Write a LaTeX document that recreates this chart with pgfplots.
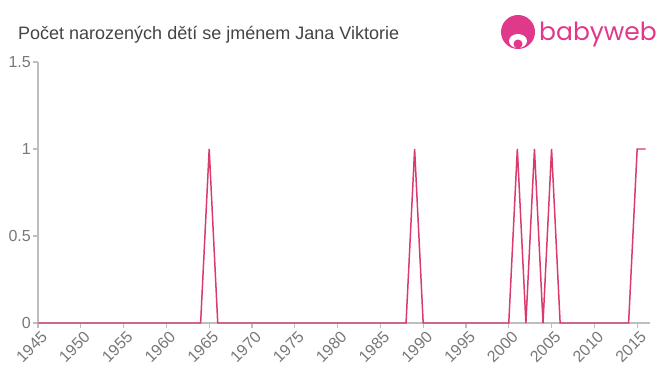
\documentclass[border=0pt]{standalone}
\usepackage{pgfplots}
\pgfplotsset{compat=1.18}
\usepackage{fontspec}
\setmainfont{Liberation Sans}
\newfontfamily\logofont{Poppins}
\definecolor{linec}{RGB}{217,59,107}
\definecolor{logoc}{RGB}{224,56,138}
\definecolor{txtc}{RGB}{68,68,68}
\definecolor{tickc}{RGB}{120,120,120}
\definecolor{axc}{RGB}{190,190,190}
\newcommand{\xl}[1]{\fontsize{16bp}{18bp}\selectfont #1}
\begin{document}
\begin{tikzpicture}
\path (0bp,0bp) rectangle (660bp,375bp);
\node[anchor=base west, text=txtc, font=\fontsize{18bp}{20bp}\selectfont, inner sep=0] at (18bp,335bp) {Počet narozených dětí se jménem Jana Viktorie};
% logo
\fill[logoc] (518bp,343bp) circle (17bp);
\fill[white] (518bp,334bp) ellipse (9bp and 7bp);
\fill[logoc] (518bp,331bp) circle (4.5bp);
\fill[logoc] (512bp,341bp) rectangle (524bp,345bp);
\node[anchor=base west, text=logoc, font=\logofont\fontsize{25bp}{27bp}\selectfont, inner sep=0] at (539bp,334bp) {babyweb};
\begin{axis}[
  at={(38bp,52bp)}, anchor=south west,
  scale only axis, width=612bp, height=261bp,
  xmin=1945, xmax=2016.5, ymin=0, ymax=1.5,
  axis x line=bottom, axis y line=left,
  axis line style={-, draw=axc, line width=1.2pt},
  tick align=outside,
  major tick length=5bp,
  tick style={draw=axc, line width=1.2pt},
  xtick={1945,1950,...,2015},
  xticklabels={\xl{1945},\xl{1950},\xl{1955},\xl{1960},\xl{1965},\xl{1970},\xl{1975},\xl{1980},\xl{1985},\xl{1990},\xl{1995},\xl{2000},\xl{2005},\xl{2010},\xl{2015}},
  ytick={0,0.5,1,1.5},
  yticklabels={0,0.5,1,1.5},
  xticklabel style={rotate=45, anchor=east, xshift=2bp, yshift=-9bp, text=tickc, inner sep=2bp},
  yticklabel style={text=tickc, font=\fontsize{16bp}{18bp}\selectfont, inner sep=2bp},
  clip=false,
]
\addplot[linec, line width=1.5pt, mark=none] coordinates {
(1945,0)(1946,0)(1947,0)(1948,0)(1949,0)(1950,0)(1951,0)(1952,0)(1953,0)(1954,0)
(1955,0)(1956,0)(1957,0)(1958,0)(1959,0)(1960,0)(1961,0)(1962,0)(1963,0)(1964,0)
(1965,1)(1966,0)(1967,0)(1968,0)(1969,0)(1970,0)(1971,0)(1972,0)(1973,0)(1974,0)
(1975,0)(1976,0)(1977,0)(1978,0)(1979,0)(1980,0)(1981,0)(1982,0)(1983,0)(1984,0)
(1985,0)(1986,0)(1987,0)(1988,0)(1989,1)(1990,0)(1991,0)(1992,0)(1993,0)(1994,0)
(1995,0)(1996,0)(1997,0)(1998,0)(1999,0)(2000,0)(2001,1)(2002,0)(2003,1)(2004,0)
(2005,1)(2006,0)(2007,0)(2008,0)(2009,0)(2010,0)(2011,0)(2012,0)(2013,0)(2014,0)
(2015,1)(2016,1)
};
\end{axis}
\end{tikzpicture}
\end{document}
